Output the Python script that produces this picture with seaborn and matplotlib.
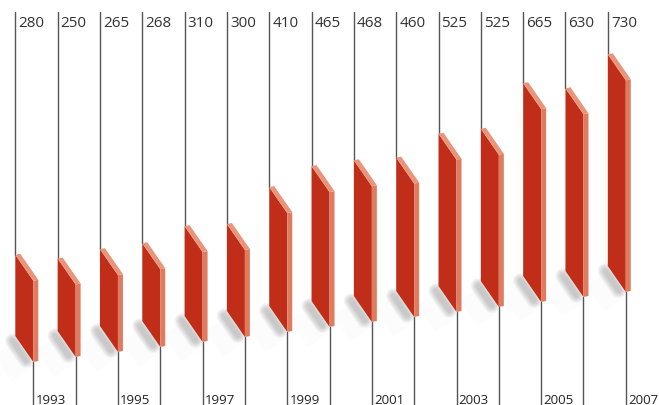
import numpy as np
import pandas as pd
import matplotlib
matplotlib.use("Agg")
from matplotlib import pyplot as plt
from matplotlib.transforms import Affine2D, ScaledTranslation
import seaborn as sns

years = list(range(1993, 2008))
values = [280, 250, 265, 268, 310, 300, 410, 465, 468, 460, 525, 525, 665, 630, 730]
year_labels = [str(y) if (y - 1993) % 2 == 0 else "" for y in years]

df = pd.DataFrame({"year": [str(y) for y in years], "value": values})

sns.set_theme(style="white")
plt.rcParams["font.family"] = ["Open Sans", "DejaVu Sans"]

front = "#C02E19"
side = "#DF7B5E"
top = "#E9957B"
line_c = "#555555"

# pixel layout of the pseudo 3D scene
PX = 42.32          # px per bar step
PY = 0.29           # px per value unit
W = 18 / PX         # front face width
DROP = 26 / PY      # slant of top / bottom edges
EX, EY = 5 / PX, 1 / PY   # extrusion of the box
RISE = 5 / PY       # floor tilt per bar

fig = plt.figure(figsize=(6.59, 4.06), dpi=100)
ax = fig.add_axes([0, 0, 1, 1])

sns.barplot(data=df, x="year", y="value", width=W, color=front, saturation=1,
            errorbar=None, edgecolor="none", linewidth=0, ax=ax, zorder=3)

x_left = -W / 2 - 15.3 / PX
x_right = x_left + 659 / PX
y_bot = -(406 - 337) / PY
y_top = 337 / PY
ax.set_xlim(x_left, x_right)
ax.set_ylim(y_bot, y_top)
line_top = (337 - 13) / PY

for i, (bar, v) in enumerate(zip(ax.patches, values)):
    base = RISE * i
    xl = bar.get_x()
    xr = xl + bar.get_width()
    k = DROP / bar.get_width()
    # shear the seaborn rectangle into a slanted front face
    m = np.array([[1, 0, 0], [-k, 1, base + k * xl], [0, 0, 1]])
    bar.set_transform(Affine2D(m) + ax.transData)

    # side and top faces
    ax.fill([xr, xr + EX, xr + EX, xr],
            [base + v - DROP, base + v - DROP + EY, base - DROP + EY, base - DROP],
            color=side, lw=0, zorder=4)
    ax.fill([xl, xl + EX, xr + EX, xr],
            [base + v, base + v + EY, base + v - DROP + EY, base + v - DROP],
            color=top, lw=0, zorder=4)

    # soft shadows on the floor
    far = ax.transData + ScaledTranslation(-0.10, -0.12, fig.dpi_scale_trans)
    ax.plot([xl, xr], [base, base - DROP], color="#000000", lw=20, alpha=0.012,
            solid_capstyle="butt", transform=far, zorder=0.5)
    near = ax.transData + ScaledTranslation(-0.035, -0.035, fig.dpi_scale_trans)
    for lw in [11, 9.5, 8, 6.5, 5, 3.5]:
        ax.plot([xl + W * 0.05, xr - W * 0.2], [base - DROP * 0.05, base - DROP * 0.8],
                color="#555555", lw=lw, alpha=0.055,
                solid_capstyle="round", transform=near, zorder=1)

    # leader lines
    ax.plot([xl, xl], [line_top, base + v], color=line_c, lw=1, zorder=2)
    ax.plot([xr, xr], [base - DROP, y_bot], color=line_c, lw=1, zorder=2)

    ax.annotate(str(v), xy=(xl, 1 - 27 / 406), xycoords=("data", "axes fraction"),
                xytext=(2.2, 0), textcoords="offset points", ha="left", va="baseline",
                fontsize=11, color="#333333")
    if year_labels[i]:
        ax.annotate(year_labels[i], xy=(xr, 1 - 404 / 406), xycoords=("data", "axes fraction"),
                    xytext=(1.5, 0), textcoords="offset points", ha="left", va="baseline",
                    fontsize=9.5, color="#222222")

ax.axis("off")
fig.savefig("out.png", dpi=100)
